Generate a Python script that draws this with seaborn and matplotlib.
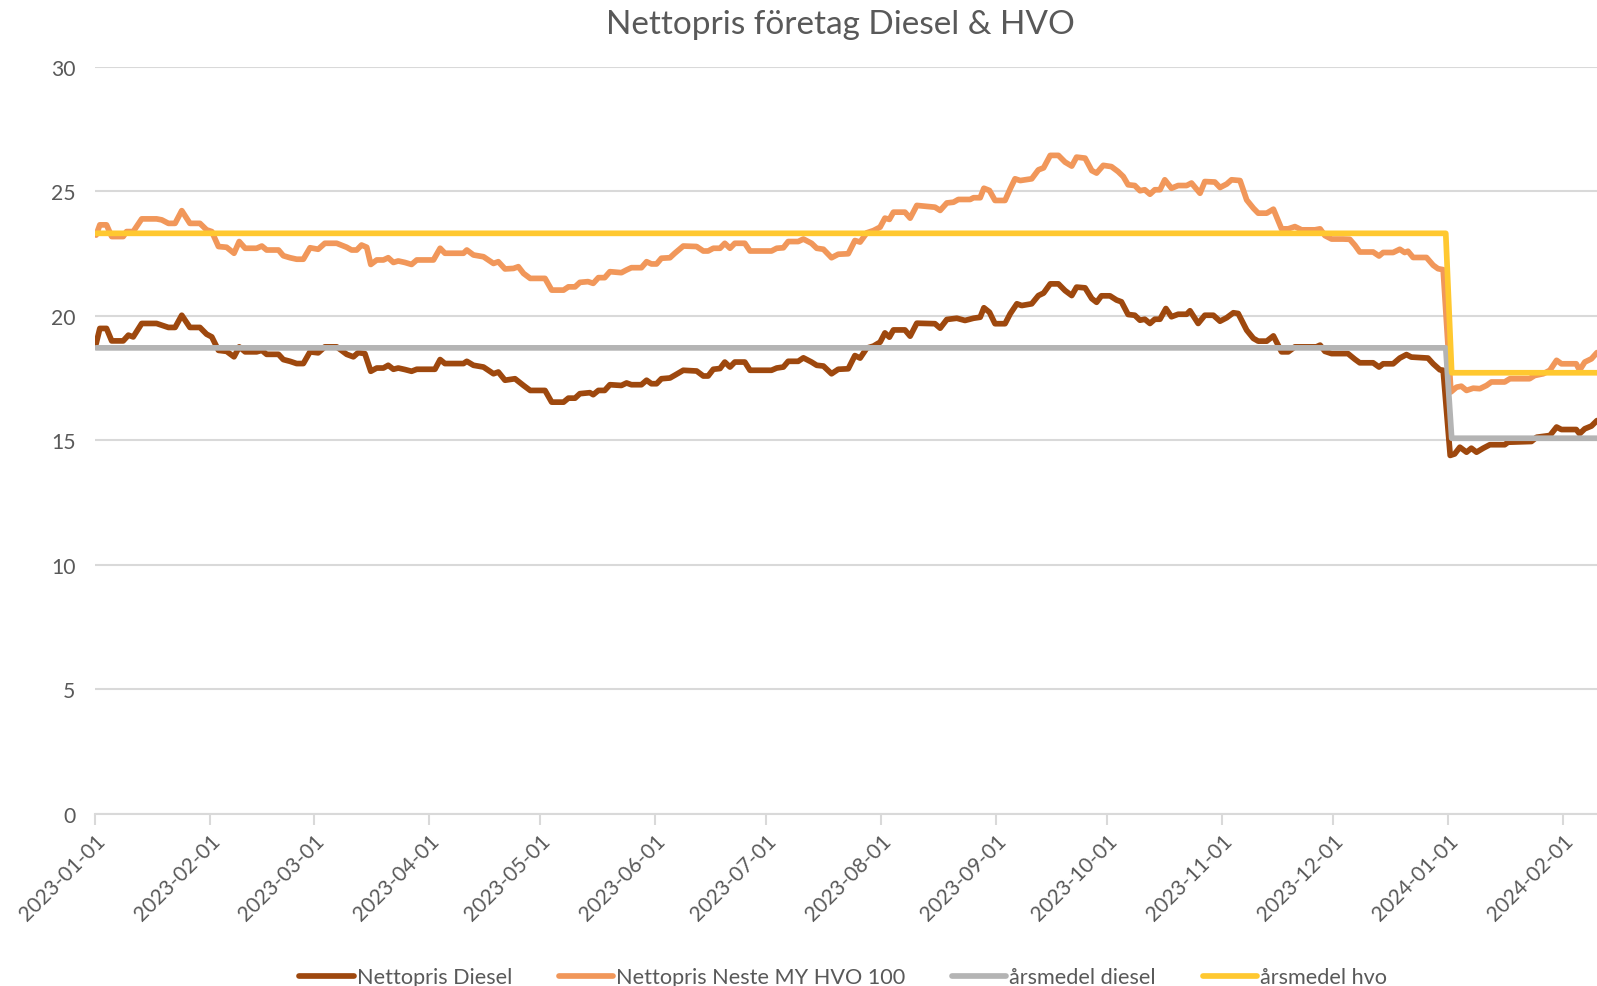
import numpy as np
import pandas as pd
import matplotlib
matplotlib.use('Agg')
import matplotlib.pyplot as plt
import matplotlib.dates as mdates
import seaborn as sns

# Data: days since 2023-01-01 and price (kr/l)
diesel_days = [0.3, 1.3, 3.1, 4.5, 7.6, 9, 10.3, 12.6, 16.6, 18, 19.8, 21.6, 23.4, 25.6, 28.3, 30.1, 31.5,
               33.3, 35.5, 37.5, 38.9, 40.5, 43.6, 45, 46.3, 49.5, 50.8, 52.6, 54.4, 56.2, 58, 60.2, 62,
               65.2, 67.9, 69.7, 71, 72.8, 74.4, 76, 77.8, 79.1, 80.5, 81.8, 83.6, 85.4, 86.8, 91.7, 93.1,
               94.4, 99.4, 100.3, 102.1, 104.8, 107.5, 108.8, 110.6, 113.3, 115.6, 117.4, 121.4, 123.2,
               126.4, 127.7, 129.5, 130.8, 133.5, 134.4, 135.8, 137.5, 138.9, 142, 143.4, 144.7, 147.4,
               148.8, 150.1, 151.5, 152.8, 155.1, 156.4, 158.7, 162.3, 164.1, 165.4, 166.8, 168.6, 169.9,
               171.3, 172.6, 175.3, 176.7, 182.5, 183.9, 185.7, 187, 189.7, 191.1, 193.3, 194.7, 196.5,
               198.7, 200.5, 203.2, 205, 206.4, 208.2, 210, 211.8, 213.1, 214.3, 215.4, 218.5, 219.9,
               221.7, 226.6, 228, 229.8, 232.5, 234.7, 237, 238.8, 239.8, 241.3, 242.8, 245.5, 246.9,
               248.7, 250, 252.7, 254.5, 255.9, 257.7, 259.9, 261.7, 263.5, 264.8, 267.1, 268.9, 270.2,
               271.5, 273.8, 275.6, 276.9, 278.7, 280.5, 281.9, 283.2, 284.6, 285.9, 287.3, 288.9, 290.4,
               292.2, 294.5, 295.4, 297.6, 299.4, 301.7, 303.5, 305.3, 307.1, 308.4, 310.7, 312.5, 313.8,
               316.1, 317.9, 320.1, 321.9, 323.7, 329.5, 330.5, 331.8, 333.6, 338, 339.9, 341.2, 344.8,
               346.4, 347.5, 350.2, 352, 353.8, 355.1, 359.6, 361, 362.8, 363.7, 365.6, 366.8, 368.2,
               370, 371.3, 372.7, 374.5, 376.3, 380.3, 381.2, 387.5, 388.9, 392.5, 394.3, 395.6, 399.6,
               400.5, 401.9, 403.7, 405.2]
diesel = [18.89, 19.5, 19.5, 19.0, 19.0, 19.23, 19.16, 19.7, 19.7, 19.63, 19.54, 19.54, 20.03, 19.54,
          19.54, 19.27, 19.16, 18.62, 18.58, 18.36, 18.76, 18.56, 18.56, 18.62, 18.46, 18.46, 18.25,
          18.18, 18.09, 18.09, 18.56, 18.52, 18.76, 18.76, 18.46, 18.36, 18.53, 18.49, 17.78, 17.91,
          17.91, 18.02, 17.86, 17.91, 17.85, 17.78, 17.86, 17.86, 18.25, 18.09, 18.09, 18.18, 18.02,
          17.95, 17.68, 17.75, 17.42, 17.48, 17.21, 17.01, 17.01, 16.54, 16.54, 16.7, 16.7, 16.88,
          16.92, 16.84, 17.01, 17.01, 17.24, 17.21, 17.31, 17.24, 17.24, 17.42, 17.28, 17.28, 17.48,
          17.51, 17.62, 17.82, 17.79, 17.59, 17.59, 17.86, 17.89, 18.15, 17.95, 18.15, 18.15, 17.82,
          17.82, 17.91, 17.95, 18.18, 18.18, 18.32, 18.15, 18.02, 17.99, 17.68, 17.86, 17.88, 18.41,
          18.31, 18.71, 18.79, 18.95, 19.32, 19.15, 19.44, 19.44, 19.19, 19.71, 19.69, 19.51, 19.86,
          19.91, 19.82, 19.91, 19.95, 20.33, 20.15, 19.69, 19.69, 20.09, 20.49, 20.42, 20.49, 20.82,
          20.92, 21.29, 21.29, 21.02, 20.82, 21.16, 21.13, 20.7, 20.55, 20.81, 20.81, 20.64, 20.57,
          20.06, 20.03, 19.83, 19.87, 19.7, 19.87, 19.87, 20.3, 19.97, 20.07, 20.07, 20.21, 19.7,
          20.03, 20.03, 19.79, 19.93, 20.13, 20.1, 19.43, 19.1, 18.99, 18.99, 19.2, 18.56, 18.56,
          18.76, 18.76, 18.83, 18.58, 18.49, 18.49, 18.26, 18.12, 18.12, 17.95, 18.08, 18.08, 18.31,
          18.45, 18.35, 18.31, 18.08, 17.84, 17.82, 14.4, 14.46, 14.73, 14.53, 14.69, 14.53, 14.69,
          14.83, 14.83, 14.93, 14.96, 15.13, 15.2, 15.54, 15.44, 15.44, 15.27, 15.47, 15.58, 15.8]

hvo_days = [0.3, 1.3, 3.1, 4.5, 7.6, 8.5, 10.3, 12.6, 16.6, 18, 19.8, 21.6, 23.4, 25.6, 28.3, 30.1, 31.5,
            33.3, 35.5, 37.5, 38.9, 40.5, 43.6, 45, 46.3, 49.5, 50.8, 52.6, 54.4, 56.2, 58, 60.2, 62,
            65.2, 67.9, 69.2, 70.6, 71.9, 73.3, 74.4, 76, 77.8, 79.1, 80.5, 81.8, 83.6, 85.4, 86.8, 91.3,
            93.1, 94.4, 99.4, 100.3, 102.1, 104.8, 107.5, 108.8, 110.6, 112.9, 114.2, 115.6, 117.4,
            121.4, 123.2, 126.4, 127.7, 129.5, 130.8, 133, 134.4, 135.8, 137.5, 138.9, 142, 143.4,
            144.7, 147.4, 148.8, 150.1, 151.5, 152.8, 155.1, 156.4, 158.7, 162.3, 164.1, 165.4, 166.8,
            168.6, 169.9, 171.3, 172.6, 175.3, 176.7, 182.5, 183.9, 185.7, 187, 189.7, 191.1, 193.3,
            194.7, 196.5, 198.7, 200.5, 203.2, 205, 206.4, 208.2, 210, 211.8, 213.1, 214.3, 215.4,
            218.5, 219.9, 221.7, 226.6, 228, 229.8, 231.6, 232.9, 236.1, 237, 238.8, 239.8, 241.3,
            242.8, 245.5, 246.9, 248.2, 249.6, 252.7, 254.5, 255.9, 257.7, 259.9, 261.7, 263.5, 264.8,
            267.1, 268.9, 270.2, 272, 274.2, 276, 277.4, 278.7, 280.5, 281.9, 283.2, 284.6, 285.9,
            287.3, 288.6, 290.4, 292.2, 294.5, 295.8, 298.1, 299.4, 302.1, 303.5, 305.3, 306.6, 308.9,
            310.7, 312.5, 313.8, 316.1, 317.9, 320.1, 321.9, 323.7, 325.5, 329.1, 330.5, 331.8, 333.6,
            336.7, 338.5, 339.9, 341.2, 344.8, 346.4, 347.5, 350.2, 352, 353.3, 354.2, 355.6, 359.2,
            361, 362.3, 363.7, 365.8, 367.3, 368.6, 370, 371.8, 373.6, 375.4, 376.7, 380.3, 381.7,
            387, 388.4, 390.7, 392.5, 394.3, 395.6, 399.6, 400.5, 401.9, 403.7, 405.2]
hvo = [23.25, 23.66, 23.66, 23.19, 23.19, 23.39, 23.39, 23.9, 23.9, 23.86, 23.72, 23.72, 24.23, 23.72,
       23.72, 23.46, 23.39, 22.79, 22.76, 22.52, 22.99, 22.72, 22.72, 22.81, 22.65, 22.65, 22.42,
       22.34, 22.28, 22.28, 22.74, 22.68, 22.92, 22.92, 22.76, 22.65, 22.65, 22.85, 22.76, 22.07,
       22.25, 22.25, 22.34, 22.15, 22.21, 22.15, 22.07, 22.25, 22.25, 22.72, 22.52, 22.52, 22.65,
       22.45, 22.38, 22.11, 22.18, 21.89, 21.91, 21.98, 21.71, 21.51, 21.51, 21.04, 21.04, 21.17,
       21.17, 21.35, 21.38, 21.31, 21.54, 21.54, 21.78, 21.74, 21.85, 21.94, 21.94, 22.18, 22.09,
       22.09, 22.32, 22.34, 22.52, 22.81, 22.79, 22.61, 22.61, 22.72, 22.72, 22.92, 22.72, 22.92,
       22.92, 22.61, 22.61, 22.72, 22.74, 22.99, 22.99, 23.09, 22.92, 22.72, 22.68, 22.34, 22.48,
       22.5, 23.03, 22.97, 23.34, 23.43, 23.57, 23.93, 23.88, 24.17, 24.17, 23.93, 24.44, 24.37,
       24.24, 24.54, 24.57, 24.68, 24.68, 24.75, 24.75, 25.13, 25.04, 24.64, 24.64, 25.11, 25.51,
       25.44, 25.51, 25.87, 25.95, 26.45, 26.45, 26.18, 26.02, 26.38, 26.34, 25.84, 25.74, 26.05,
       26.0, 25.8, 25.6, 25.27, 25.24, 25.03, 25.07, 24.89, 25.07, 25.07, 25.47, 25.13, 25.24, 25.24,
       25.34, 24.93, 25.4, 25.38, 25.16, 25.3, 25.47, 25.44, 24.66, 24.33, 24.13, 24.13, 24.29, 23.5,
       23.5, 23.59, 23.46, 23.46, 23.5, 23.23, 23.09, 23.09, 23.08, 22.84, 22.57, 22.57, 22.41,
       22.55, 22.55, 22.68, 22.55, 22.6, 22.35, 22.35, 22.04, 21.9, 21.86, 16.95, 17.14, 17.18,
       17.01, 17.1, 17.08, 17.21, 17.35, 17.35, 17.48, 17.48, 17.61, 17.68, 17.82, 18.22, 18.08,
       18.08, 17.82, 18.15, 18.28, 18.53]

# yearly averages (step at the turn of the year)
avg_days = [0.3, 364.4, 366.0, 405.2]
avg_diesel = [18.72, 18.72, 15.09, 15.09]
avg_hvo = [23.32, 23.32, 17.72, 17.72]

series_names = ["Nettopris Diesel", "Nettopris Neste MY HVO 100", "årsmedel diesel", "årsmedel hvo"]
colors = ["#9E480E", "#F1975A", "#B4B4B4", "#FFC830"]

start = pd.Timestamp("2023-01-01")


def to_frame(days, values, name):
    return pd.DataFrame({
        "datum": start + pd.to_timedelta(days, unit="D"),
        "pris": values,
        "serie": name,
    })


df = pd.concat([
    to_frame(diesel_days, diesel, series_names[0]),
    to_frame(hvo_days, hvo, series_names[1]),
    to_frame(avg_days, avg_diesel, series_names[2]),
    to_frame(avg_days, avg_hvo, series_names[3]),
], ignore_index=True)

sns.set_theme(style="white")
plt.rcParams["font.family"] = ["Lato", "DejaVu Sans"]
text_color = "#595959"
grid_color = "#D9D9D9"

fig = plt.figure(figsize=(15.97, 9.87), dpi=100)
ax = fig.add_axes([0.0595, 0.1743, 0.9405, 0.7568])

sns.lineplot(data=df, x="datum", y="pris", hue="serie", hue_order=series_names,
             palette=dict(zip(series_names, colors)), linewidth=4.1,
             estimator=None, sort=False, ax=ax)

ax.set_ylim(0, 30)
ax.set_yticks(np.arange(0, 31, 5))
ax.set_xlim(start, start + pd.Timedelta(days=405.2))
ax.xaxis.set_major_locator(mdates.MonthLocator())
ax.xaxis.set_major_formatter(mdates.DateFormatter("%Y-%m-%d"))
ax.set_xlabel("")
ax.set_ylabel("")

ax.grid(axis="y", color=grid_color, linewidth=1.5)
ax.set_axisbelow(True)
for side in ["top", "right", "left"]:
    ax.spines[side].set_visible(False)
ax.spines["bottom"].set_color(grid_color)
ax.spines["bottom"].set_linewidth(1.5)

ax.tick_params(axis="y", length=0, labelsize=15.2, labelcolor=text_color, pad=14)
ax.tick_params(axis="x", length=8, width=1.5, color=grid_color, labelsize=15,
               labelcolor=text_color, pad=4, bottom=True)
for lbl in ax.get_xticklabels():
    lbl.set_rotation(45)
    lbl.set_ha("right")
    lbl.set_va("top")
    lbl.set_rotation_mode("anchor")

fig.text(0.526, 1 - 25 / 987, "Nettopris företag Diesel & HVO", ha="center", va="center",
         fontsize=24, color=text_color)

handles, labels = ax.get_legend_handles_labels()
ax.legend(handles, labels, loc="center", bbox_to_anchor=(0.528, 0.009),
          bbox_transform=fig.transFigure, ncol=4, frameon=False, fontsize=15.6,
          handlelength=2.5, handletextpad=0.15, columnspacing=2.15, labelcolor=text_color)

plt.savefig("out.png", dpi=100)
plt.close()
